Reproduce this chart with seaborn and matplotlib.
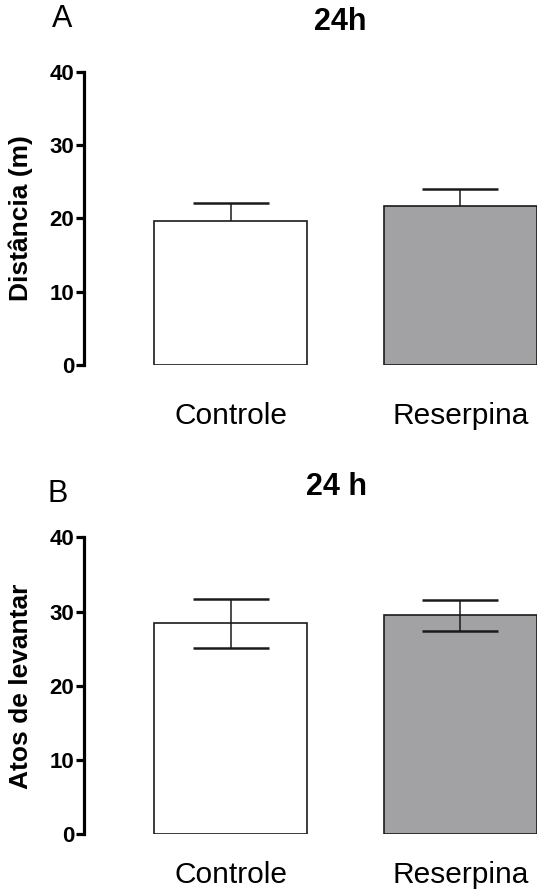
import matplotlib
matplotlib.use("Agg")
import matplotlib.pyplot as plt
import seaborn as sns

sns.set_style("white")
plt.rcParams['font.family'] = ['Liberation Sans', 'DejaVu Sans']
plt.rcParams['text.color'] = 'black'
plt.rcParams['xtick.color'] = 'black'
plt.rcParams['ytick.color'] = 'black'

grupos = ['Controle', 'Reserpina']
cores = ['#ffffff', '#a2a1a6']

# A: distancia percorrida (m)
dist_media = [19.6, 21.7]
dist_erro = [2.5, 2.3]

# B: atos de levantar
lev_media = [28.4, 29.5]
lev_erro = [3.35, 2.05]

fig = plt.figure(figsize=(5.4, 8.93), dpi=100)
ax_a = fig.add_axes([0.1556, 0.5913, 0.839, 0.3281])
ax_b = fig.add_axes([0.1556, 0.0657, 0.839, 0.3326])


def painel(ax, medias, erros, atras, ylabel, xpad):
    sns.barplot(x=grupos, y=medias, hue=grupos, palette=cores, width=0.667,
                edgecolor='#1a1a1a', linewidth=1.2, legend=False, ax=ax, zorder=2)
    # no painel A a metade de baixo fica escondida pela barra
    z = 1 if atras else 3
    ax.errorbar([0, 1], medias, yerr=erros, fmt='none', ecolor='#1a1a1a',
                elinewidth=1.1, capsize=27.5, capthick=1.8, zorder=z)
    ax.set_ylim(0, 40)
    ax.set_xlim(-0.64, 1.335)
    ax.set_yticks([0, 10, 20, 30, 40])
    for s in ['top', 'right', 'bottom']:
        ax.spines[s].set_visible(False)
    ax.spines['left'].set_linewidth(2.3)
    ax.spines['left'].set_color('black')
    ax.tick_params(axis='y', length=6, width=2.3, labelsize=16, pad=1, left=True)
    ax.tick_params(axis='x', length=0, labelsize=21.5, pad=xpad)
    for t in ax.get_yticklabels():
        t.set_fontweight('bold')
    ax.set_ylabel('')
    fig.text(21 / 540, ax.get_position().y0 + ax.get_position().height / 2, ylabel,
             rotation=90, ha='center', va='center', fontsize=19, fontweight='bold')


painel(ax_a, dist_media, dist_erro, True, 'Distância (m)', 27)
painel(ax_b, lev_media, lev_erro, False, 'Atos de levantar', 19.5)

fig.text(340 / 540, 1 - 21.5 / 893, '24h', ha='center', va='center', fontsize=22, fontweight='bold')
fig.text(336 / 540, 1 - 487 / 893, '24 h', ha='center', va='center', fontsize=22, fontweight='bold')
fig.text(62 / 540, 1 - 19 / 893, 'A', ha='center', va='center', fontsize=22)
fig.text(58 / 540, 1 - 494 / 893, 'B', ha='center', va='center', fontsize=22)

plt.savefig('out.png', dpi=100)
plt.close()
